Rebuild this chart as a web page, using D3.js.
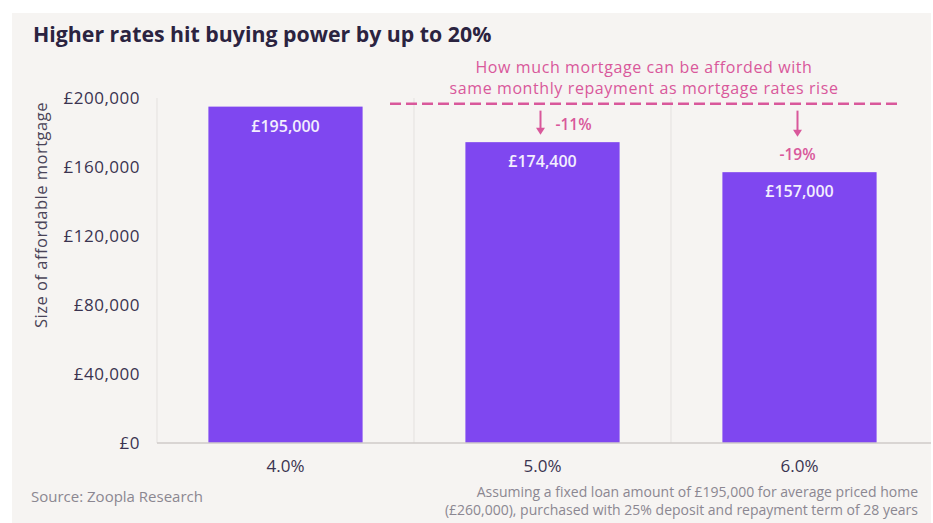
<!DOCTYPE html>
<html>
<head>
<meta charset="utf-8">
<script src="https://cdn.jsdelivr.net/npm/d3@7"></script>
<style>
  body { margin: 0; background: #ffffff; }
  svg text { font-family: "Open Sans", "Noto Sans", sans-serif; }
</style>
</head>
<body>
<div id="chart"></div>
<script>
// data
const rates = ["4.0%", "5.0%", "6.0%"];
const mortgages = [195000, 174400, 157000];
const changes = [null, "-11%", "-19%"];
const yTicks = [0, 40000, 80000, 120000, 160000, 200000];

const W = 933, H = 523;
const margin = { left: 157, right: 5, top: 98, bottom: 80 };

const svg = d3.select("#chart").append("svg")
    .attr("width", W)
    .attr("height", H);

// panel background
svg.append("rect")
    .attr("x", 12).attr("y", 13)
    .attr("width", 919).attr("height", 510)
    .attr("fill", "#f6f4f2");

const x = d3.scaleBand()
    .domain(rates)
    .range([margin.left, W - margin.right])
    .paddingInner(0.4)
    .paddingOuter(0.2);

const y = d3.scaleLinear()
    .domain([0, 200000])
    .range([H - margin.bottom, margin.top]);

const fmt = d => "£" + d3.format(",")(d);

// title
svg.append("text")
    .attr("x", 33).attr("y", 42)
    .attr("fill", "#2b2340")
    .style("font-size", "21.3px")
    .style("font-weight", "bold")
    .text("Higher rates hit buying power by up to 20%");

// vertical grid at band edges
const step = x.step();
const edges = [1, 2].map(i => margin.left + step * i);
svg.selectAll(".vgrid").data(edges).enter().append("line")
    .attr("x1", d => d).attr("x2", d => d)
    .attr("y1", y(200000)).attr("y2", y(0))
    .attr("stroke", "#e4e1df").attr("stroke-width", 1);

// left axis line
svg.append("line")
    .attr("x1", margin.left).attr("x2", margin.left)
    .attr("y1", y(200000)).attr("y2", y(0))
    .attr("stroke", "#e4e1df");

// y axis
const yAxis = svg.append("g")
    .attr("transform", "translate(" + margin.left + ",0)")
    .call(d3.axisLeft(y).tickValues(yTicks).tickFormat(fmt).tickSize(0).tickPadding(17));
yAxis.select(".domain").remove();
yAxis.selectAll("text")
    .attr("fill", "#3a3350")
    .style("font-size", "17px")
    .style("letter-spacing", "0.5px");

// y label
svg.append("text")
    .attr("transform", "translate(47,215) rotate(-90)")
    .attr("text-anchor", "middle")
    .attr("fill", "#4a4458")
    .style("font-size", "16.5px")
    .style("letter-spacing", "0.5px")
    .text("Size of affordable mortgage");

// bars
svg.selectAll(".bar").data(mortgages).enter().append("rect")
    .attr("class", "bar")
    .attr("x", (d, i) => x(rates[i]))
    .attr("y", d => y(d))
    .attr("width", x.bandwidth())
    .attr("height", d => y(0) - y(d))
    .attr("fill", "#7f47f0");

svg.selectAll(".barlabel").data(mortgages).enter().append("text")
    .attr("x", (d, i) => x(rates[i]) + x.bandwidth() / 2)
    .attr("y", d => y(d) + 25)
    .attr("text-anchor", "middle")
    .attr("fill", "#f3eefe")
    .style("font-size", "16px")
    .style("font-weight", "600")
    .text(fmt);

// baseline
svg.append("line")
    .attr("x1", margin.left).attr("x2", W - 2)
    .attr("y1", y(0)).attr("y2", y(0))
    .attr("stroke", "#cfcbc8").attr("stroke-width", 1.5);

// x axis labels
const xAxis = svg.append("g")
    .attr("transform", "translate(0," + y(0) + ")")
    .call(d3.axisBottom(x).tickSize(0).tickPadding(17));
xAxis.select(".domain").remove();
xAxis.selectAll("text")
    .attr("fill", "#3a3350")
    .style("font-size", "17px");

// annotation
const pink = "#d9589b";
const ann = svg.append("text")
    .attr("text-anchor", "middle")
    .attr("fill", pink)
    .style("font-size", "16px")
    .style("letter-spacing", "0.6px");
ann.append("tspan").attr("x", 644).attr("y", 73).text("How much mortgage can be afforded with");
ann.append("tspan").attr("x", 644).attr("y", 94).text("same monthly repayment as mortgage rates rise");

svg.append("line")
    .attr("x1", 390).attr("x2", 900)
    .attr("y1", y(195000) - 3).attr("y2", y(195000) - 3)
    .attr("stroke", pink)
    .attr("stroke-width", 2.5)
    .attr("stroke-dasharray", "11,5");

changes.forEach((c, i) => {
    if (!c) return;
    const cx = x(rates[i]) + x.bandwidth() / 2 - 2;
    const y0 = y(195000) + 4;
    const y1 = y(195000) + (i === 1 ? 28 : 30);
    svg.append("line")
        .attr("x1", cx).attr("x2", cx)
        .attr("y1", y0).attr("y2", y1 - 5)
        .attr("stroke", pink).attr("stroke-width", 2);
    svg.append("path")
        .attr("d", `M${cx - 4.5},${y1 - 7} L${cx + 4.5},${y1 - 7} L${cx},${y1} Z`)
        .attr("fill", pink);
    const t = svg.append("text")
        .attr("fill", pink)
        .style("font-size", "15.5px")
        .style("font-weight", "600")
        .text(c);
    if (i === 1) {
        t.attr("x", cx + 15).attr("y", y(195000) + 23);
    } else {
        t.attr("x", cx).attr("y", y(195000) + 53).attr("text-anchor", "middle");
    }
});

// source and footnote
svg.append("text")
    .attr("x", 31).attr("y", 502)
    .attr("fill", "#8b8791")
    .style("font-size", "15px")
    .text("Source: Zoopla Research");

const note = svg.append("text")
    .attr("text-anchor", "end")
    .attr("fill", "#8b8791")
    .style("font-size", "14px");
note.append("tspan").attr("x", 918).attr("y", 497)
    .text("Assuming a fixed loan amount of £195,000 for average priced home");
note.append("tspan").attr("x", 918).attr("y", 515)
    .text("(£260,000), purchased with 25% deposit and repayment term of 28 years");
</script>
</body>
</html>
